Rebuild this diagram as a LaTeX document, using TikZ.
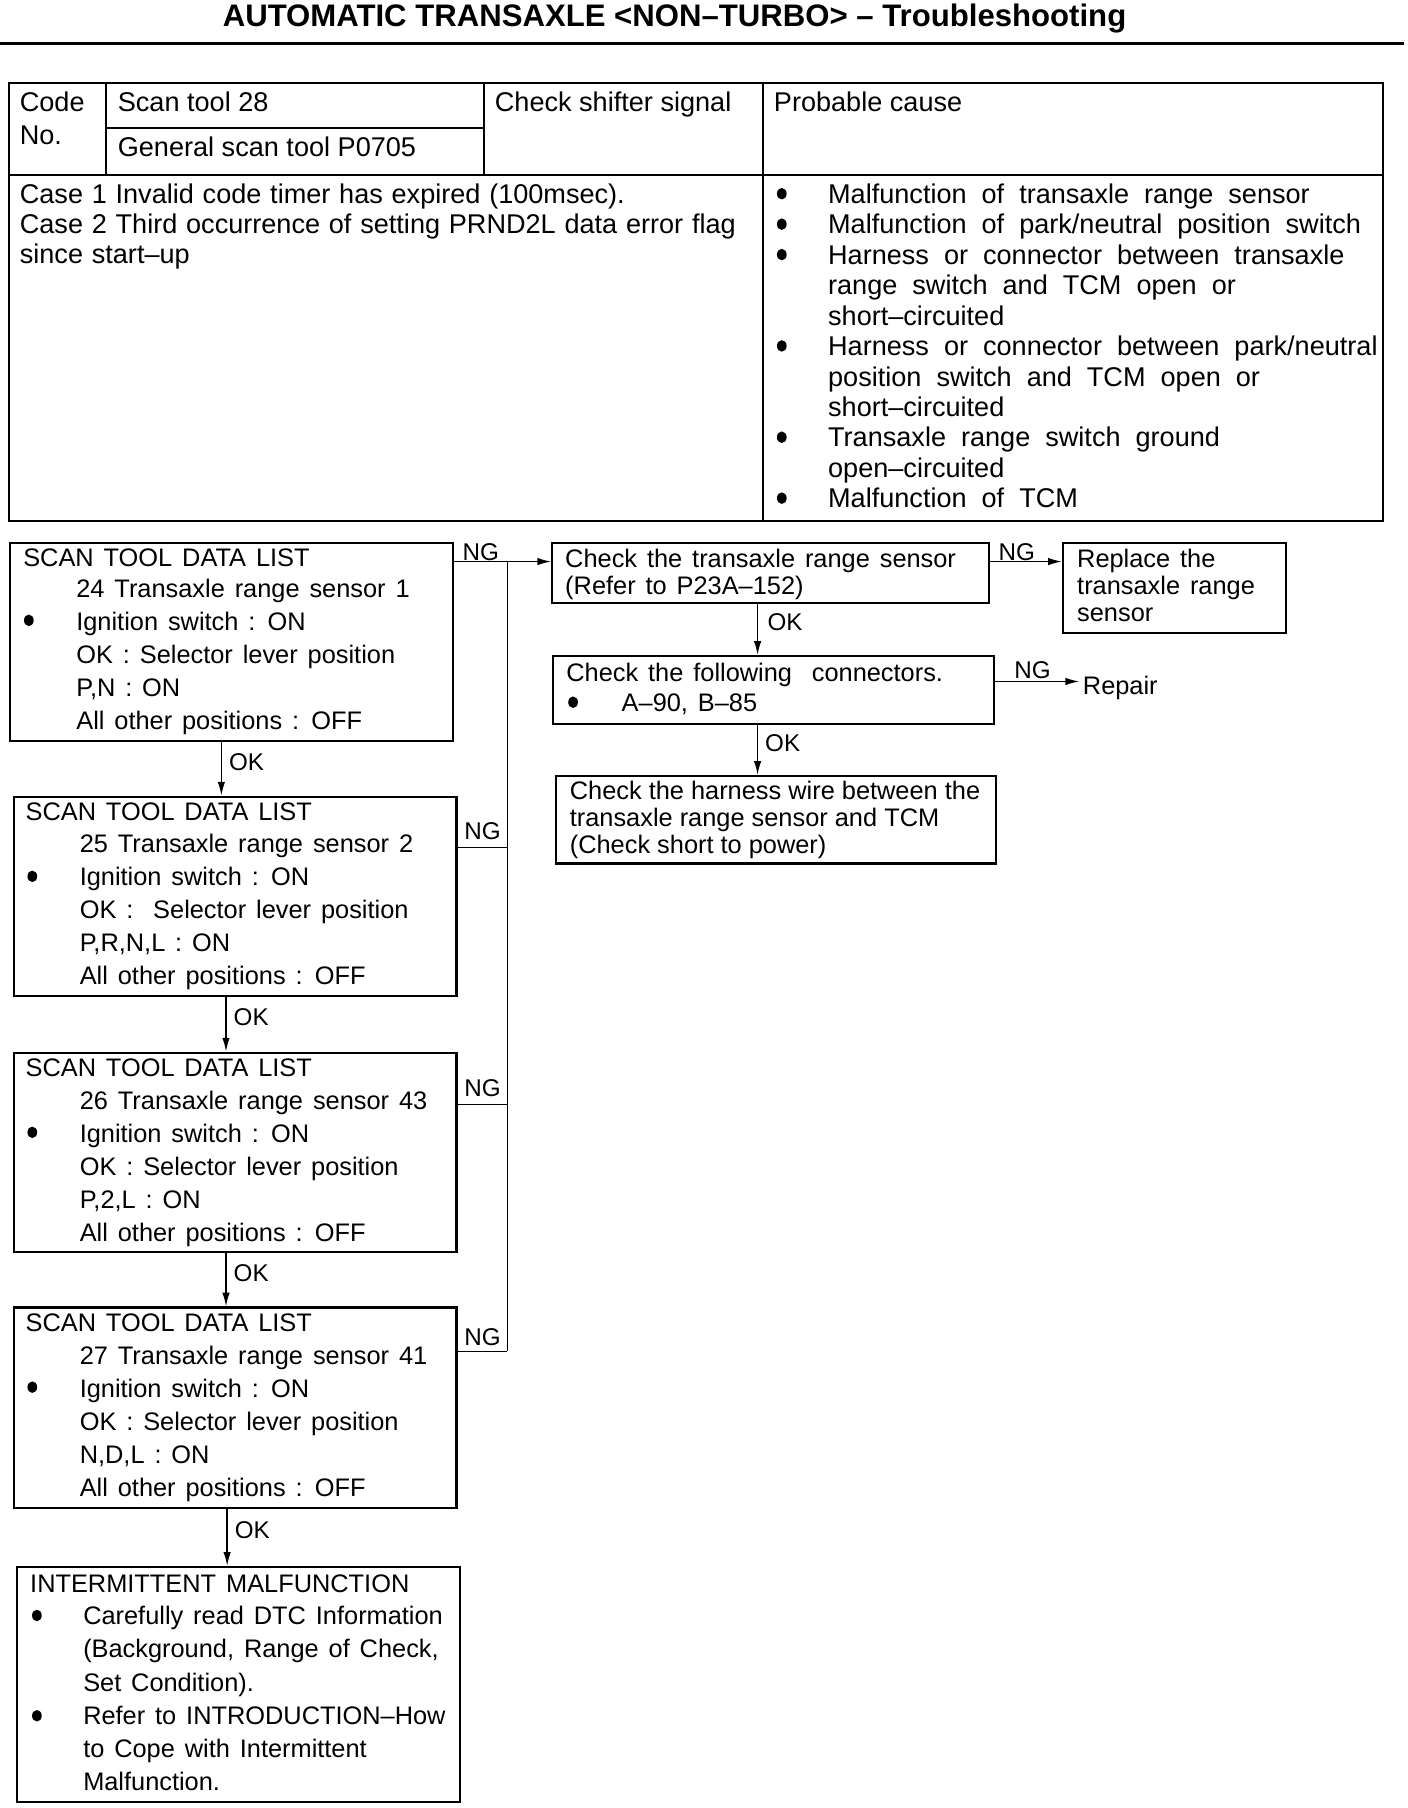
\documentclass[tikz,border=0pt]{standalone}
\usepackage{fontspec}
\setmainfont{Liberation Sans}
\usetikzlibrary{arrows.meta}
\newcommand\wsflow{\spaceskip 8.6pt plus 1pt\relax}
\newcommand\wscase{\spaceskip 7.6pt plus 1pt\relax}
\newcommand\wscause{\spaceskip 13pt plus 1pt\relax}
\begin{document}
\begin{tikzpicture}[x=1pt,y=-1pt,
  box/.style={draw,line width=1.8pt,rectangle,inner sep=0pt,anchor=north west},
  ft/.style={font={\fontsize{22}{28.6}\selectfont\wsflow}},
  fb/.style={font={\fontsize{22}{23.4}\selectfont\wsflow}},
  tt/.style={font=\fontsize{23.5}{26.4}\selectfont},
  txt/.style={anchor=base west,inner sep=0pt,align=left},
  lbl/.style={font=\fontsize{21}{24}\selectfont,inner sep=2pt},
  arr/.style={line width=1.3pt,-{Latex[length=12pt,width=6.5pt]}},
  conn/.style={line width=1.3pt},
  tline/.style={line width=1.8pt},
]
\fill[white] (0,0) rectangle (1221,1568);
\useasboundingbox (0,0) rectangle (1221,1568);

% title and rule
\node[font=\bfseries\fontsize{27}{30}\selectfont,inner sep=0pt] (title) at (585,16) {AUTOMATIC TRANSAXLE <NON–TURBO> – Troubleshooting};
\draw[line width=2.5pt] (0,38) -- (1218,38);

% table
\draw[tline] (8,72) rectangle (1199,452);
\draw[tline] (8,152) -- (1199,152);
\draw[tline] (92,72) -- (92,152);
\draw[tline] (420,72) -- (420,152);
\draw[tline] (662,72) -- (662,452);
\draw[tline] (92,111) -- (420,111);

\node[txt,tt] (h1) at (17,97) {Code};
\node[txt,tt] (h2) at (17,125) {No.};
\node[txt,tt] (h3) at (102,97) {Scan tool 28};
\node[txt,tt] (h4) at (102,136) {General scan tool P0705};
\node[txt,tt] (h5) at (429,97) {Check shifter signal};
\node[txt,tt] (h6) at (671,97) {Probable cause};

% multi-line nodes: base anchor = baseline of last line
\node[txt,font={\fontsize{23.5}{26}\selectfont\wscase}] (cases) at (17,228.4) {Case 1 Invalid code timer has expired (100msec).\\Case 2 Third occurrence of setting PRND2L data error flag\\since start–up};
\node[txt,font={\fontsize{23.5}{26.4}\selectfont\wscause}] (causes) at (718,440.4) {Malfunction of transaxle range sensor\\Malfunction of park/neutral position switch\\Harness or connector between transaxle\\range switch and TCM open or\\short–circuited\\Harness or connector between park/neutral\\position switch and TCM open or\\short–circuited\\Transaxle range switch ground\\open–circuited\\Malfunction of TCM};
\foreach \yy in {168,194.4,220.8,300,379.2,432}
  \fill (678,\yy) ellipse [x radius=4.2, y radius=5];

% flowchart boxes
\node[box,minimum width=384pt,minimum height=172pt] (a1) at (8,470) {};
\node[txt,ft] (a1t) at (20,491) {SCAN TOOL DATA LIST};
\node[txt,ft] (a1b) at (66,632.4) {24 Transaxle range sensor 1\\Ignition switch : ON\\OK : Selector lever position\\P,N : ON\\All other positions : OFF};
\fill (25,538) ellipse [x radius=4.2, y radius=5];

\node[box,minimum width=384pt,minimum height=173pt] (a2) at (11,690) {};
\node[txt,ft] (a2t) at (22,712) {SCAN TOOL DATA LIST};
\node[txt,ft] (a2b) at (69,853.4) {25 Transaxle range sensor 2\\Ignition switch : ON\\OK :\ \ Selector lever position\\P,R,N,L : ON\\All other positions : OFF};
\fill (28,760) ellipse [x radius=4.2, y radius=5];

\node[box,minimum width=384pt,minimum height=173pt] (a3) at (11,912) {};
\node[txt,ft] (a3t) at (22,934) {SCAN TOOL DATA LIST};
\node[txt,ft] (a3b) at (69,1076.4) {26 Transaxle range sensor 43\\Ignition switch : ON\\OK : Selector lever position\\P,2,L : ON\\All other positions : OFF};
\fill (28,982) ellipse [x radius=4.2, y radius=5];

\node[box,minimum width=384pt,minimum height=174pt] (a4) at (11,1133) {};
\node[txt,ft] (a4t) at (22,1155) {SCAN TOOL DATA LIST};
\node[txt,ft] (a4b) at (69,1297.4) {27 Transaxle range sensor 41\\Ignition switch : ON\\OK : Selector lever position\\N,D,L : ON\\All other positions : OFF};
\fill (28,1203) ellipse [x radius=4.2, y radius=5];

\node[box,minimum width=384pt,minimum height=204pt] (a5) at (14,1358) {};
\node[txt,ft] (a5t) at (26,1381) {INTERMITTENT MALFUNCTION};
\node[txt,font={\fontsize{22}{28.8}\selectfont\wsflow}] (a5b) at (72,1553) {Carefully read DTC Information\\(Background, Range of Check,\\Set Condition).\\Refer to INTRODUCTION--How\\to Cope with Intermittent\\Malfunction.};
\fill (32,1401) ellipse [x radius=4.2, y radius=5];
\fill (32,1488) ellipse [x radius=4.2, y radius=5];

\node[box,minimum width=379pt,minimum height=52pt] (b1) at (478,470) {};
\node[txt,fb] (b1t) at (490,515.4) {Check the transaxle range sensor\\(Refer to P23A–152)};

\node[box,minimum width=193pt,minimum height=78pt] (c1) at (921,470) {};
\node[txt,fb] (c1t) at (934,538.8) {Replace the\\transaxle range\\sensor};

\node[box,minimum width=382pt,minimum height=59pt] (b2) at (479,568) {};
\node[txt,fb] (b2t) at (491,591) {Check the following\ \ connectors.};
\node[txt,fb] (b2c) at (539,617) {A–90, B–85};
\fill (497,609) ellipse [x radius=4.2, y radius=5];

\node[box,minimum width=382pt,minimum height=76pt] (b3) at (481,672) {};
\node[txt,font=\fontsize{22}{23.4}\selectfont] (b3t) at (494,739.8) {Check the harness wire between the\\transaxle range sensor and TCM\\(Check short to power)};

\node[ft,anchor=west,inner sep=3pt] (rep) at (936,597) {Repair};

% connectors
\coordinate (j1) at (440,487);
\coordinate (j2) at (440,735);
\coordinate (j3) at (440,958);
\coordinate (j4) at (440,1172);
\draw[arr] (a1.east |- j1) -- node[lbl,above,inner sep=0pt] (ng1) {NG} (j1) -- (b1.west |- j1);
\draw[conn] (a2.east |- j2) -- node[lbl,above,inner sep=6pt] (ng2) {NG} (j2);
\draw[conn] (a3.east |- j3) -- node[lbl,above,inner sep=6pt] (ng3) {NG} (j3);
\draw[conn] (a4.east |- j4) -- node[lbl,above,inner sep=4pt] (ng4) {NG} (j4);
\draw[conn] (j1) -- (j4);

\draw[arr] ([xshift=184pt]a1.south west) -- node[lbl,right,inner sep=6pt,yshift=6pt] (ok1) {OK} ([xshift=181pt]a2.north west);
\draw[arr] ([xshift=185pt]a2.south west) -- node[lbl,right,inner sep=6pt,yshift=6pt] (ok2) {OK} ([xshift=185pt]a3.north west);
\draw[arr] ([xshift=185pt]a3.south west) -- node[lbl,right,inner sep=6pt,yshift=6pt] (ok3) {OK} ([xshift=185pt]a4.north west);
\draw[arr] ([xshift=186pt]a4.south west) -- node[lbl,right,inner sep=6pt,yshift=6pt] (ok4) {OK} ([xshift=183pt]a5.north west);

\draw[arr] ([yshift=-17pt]b1.north east) -- node[lbl,above,inner sep=0pt,xshift=-8pt] (ng5) {NG} ([yshift=-17pt]c1.north west);
\draw[arr] ([xshift=179pt]b1.south west) -- node[lbl,right,inner sep=8pt,yshift=6pt] (ok5) {OK} ([xshift=178pt]b2.north west);
\draw[arr] ([xshift=178pt]b2.south west) -- node[lbl,right,inner sep=6pt,yshift=6pt] (ok6) {OK} ([xshift=176pt]b3.north west);
\draw[arr] ([yshift=-23pt]b2.north east) -- node[lbl,above,inner sep=2pt,xshift=-4pt] (ng6) {NG} ([yshift=-23pt]b2.north east -| rep.west);
\end{tikzpicture}
\end{document}
